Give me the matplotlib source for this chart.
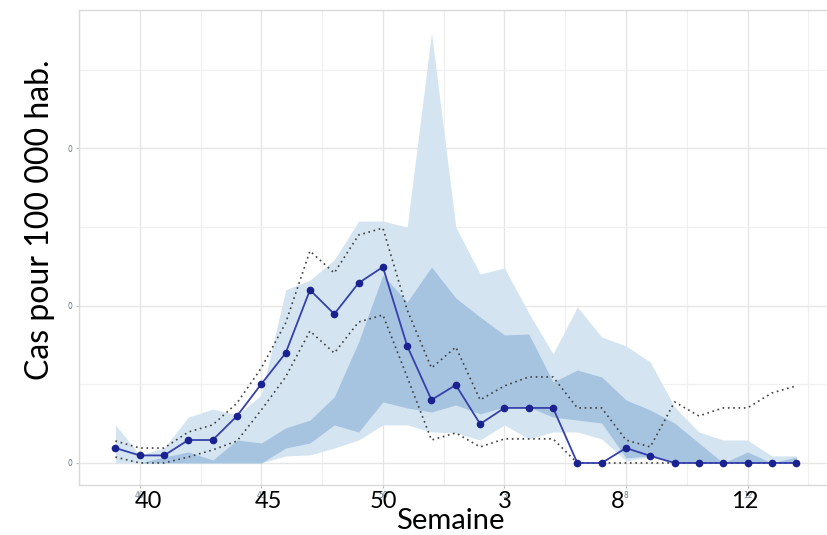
import numpy as np
import matplotlib.pyplot as plt

# semaines 39 -> 15 (saison)
semaines = [39, 40, 41, 42, 43, 44, 45, 46, 47, 48, 49, 50, 51, 52,
            1, 2, 3, 4, 5, 6, 7, 8, 9, 10, 11, 12, 13, 14, 15]

# taux observe
taux = [0.095, 0.048, 0.048, 0.146, 0.146, 0.299, 0.502, 0.699, 1.100, 0.947,
        1.144, 1.246, 0.744, 0.401, 0.496, 0.248, 0.350, 0.350, 0.350, 0.0,
        0.0, 0.095, 0.045, 0.0, 0.0, 0.0, 0.0, 0.0, 0.0]

# enveloppe large (saisons precedentes)
env_haut = [0.242, 0.051, 0.095, 0.292, 0.343, 0.305, 0.432, 1.100, 1.163, 1.291,
            1.538, 1.538, 1.500, 2.734, 1.500, 1.202, 1.240, 0.954, 0.693, 0.992,
            0.801, 0.744, 0.642, 0.356, 0.197, 0.146, 0.146, 0.045, 0.045]
env_bas = [0.0, 0.0, 0.0, 0.0, 0.0, 0.0, 0.0, 0.045, 0.051, 0.095,
           0.146, 0.242, 0.242, 0.197, 0.191, 0.146, 0.242, 0.153, 0.197, 0.197,
           0.153, 0.013, 0.038, 0.0, 0.0, 0.0, 0.0, 0.0, 0.0]

# enveloppe etroite
int_haut = [0.0, 0.0, 0.038, 0.070, 0.019, 0.146, 0.127, 0.223, 0.273, 0.420,
            0.769, 1.195, 1.024, 1.246, 1.049, 0.928, 0.814, 0.820, 0.515, 0.591,
            0.547, 0.401, 0.337, 0.254, 0.127, 0.0, 0.070, 0.0, 0.038]
int_bas = [0.0, 0.0, 0.0, 0.0, 0.0, 0.0, 0.0, 0.095, 0.127, 0.242,
           0.197, 0.388, 0.350, 0.324, 0.369, 0.312, 0.356, 0.356, 0.292, 0.273,
           0.254, 0.032, 0.045, 0.0, 0.0, 0.0, 0.0, 0.0, 0.0]

# seuils (pointilles)
seuil_haut = [0.140, 0.095, 0.095, 0.197, 0.242, 0.381, 0.604, 0.890, 1.348, 1.208,
              1.449, 1.494, 0.973, 0.604, 0.737, 0.401, 0.490, 0.547, 0.547, 0.350,
              0.350, 0.146, 0.102, 0.388, 0.299, 0.350, 0.350, 0.445, 0.490]
seuil_bas = [0.038, 0.0, 0.0, 0.038, 0.083, 0.140, 0.337, 0.547, 0.839, 0.699,
             0.896, 0.941, 0.547, 0.146, 0.191, 0.102, 0.153, 0.153, 0.153, 0.0,
             0.0, 0.0, 0.0, 0.0, 0.0, 0.0, 0.0, 0.0, 0.0]

ticks_sem = ["40", "45", "50", "3", "8", "12"]
ticks_y = [0, 1, 2]

x = np.arange(len(semaines))
tick_pos = [semaines.index(40) + 5 * k for k in range(len(ticks_sem))]

fig = plt.figure(figsize=(8.28, 5.35), dpi=100)
ax = fig.add_axes([79 / 828, 1 - 485 / 535, 1 - 79 / 828, (485 - 10) / 535])

ax.fill_between(x, env_bas, env_haut, color="#d4e5f1", lw=0, zorder=2)
ax.fill_between(x, int_bas, int_haut, color="#a6c4e0", lw=0, zorder=3)
ax.plot(x, seuil_haut, color="#404040", lw=1.2, ls=(0, (1, 2.2)), zorder=4)
ax.plot(x, seuil_bas, color="#404040", lw=1.2, ls=(0, (1, 2.2)), zorder=4)
ax.plot(x, taux, color="#3640ad", lw=1.3, marker="o", ms=4.5,
        mfc="#1a2290", mec="#1a2290", zorder=5)

ax.set_xlim(-1.43, 29.31)
ax.set_ylim(-0.14, 2.88)

ax.set_xticks(tick_pos)
ax.set_xticklabels(ticks_sem)
ax.set_xticks([p - 2.5 for p in tick_pos] + [tick_pos[-1] + 2.5], minor=True)
ax.set_yticks(ticks_y)
ax.set_yticklabels(["0"] * len(ticks_y))
ax.set_yticks([0.5, 1.5, 2.5], minor=True)

ax.tick_params(axis="both", which="major", labelsize=5.5, labelcolor="#6f7a8a",
               color="#bdbdbd", length=2.5, width=0.8, pad=2)
ax.tick_params(axis="both", which="minor", length=0)
ax.grid(which="major", color="#e6e6e6", lw=1.0, zorder=0)
ax.grid(which="minor", color="#f0f0f0", lw=0.9, zorder=0)
ax.set_axisbelow(True)

for s in ["left", "top", "bottom"]:
    ax.spines[s].set_color("#d9d9d9")
    ax.spines[s].set_linewidth(1.0)
ax.spines["right"].set_visible(False)

# grands libelles superposes
big_x = [148, 268, 383, 505, 618, 745]
for lab, px in zip(ticks_sem, big_x):
    fig.text(px / 828, 1 - 502 / 535, lab, ha="center", va="center",
             fontsize=17, family="Lato", color="black")
fig.text(450 / 828, 1 - 521 / 535, "Semaine", ha="center", va="center",
         fontsize=21, family="Lato", color="black")
fig.text(40 / 828, 1 - 220 / 535, "Cas pour 100 000 hab.", ha="center", va="center",
         rotation=90, fontsize=23, family="Lato", color="black")

fig.savefig("out.png", dpi=100)
